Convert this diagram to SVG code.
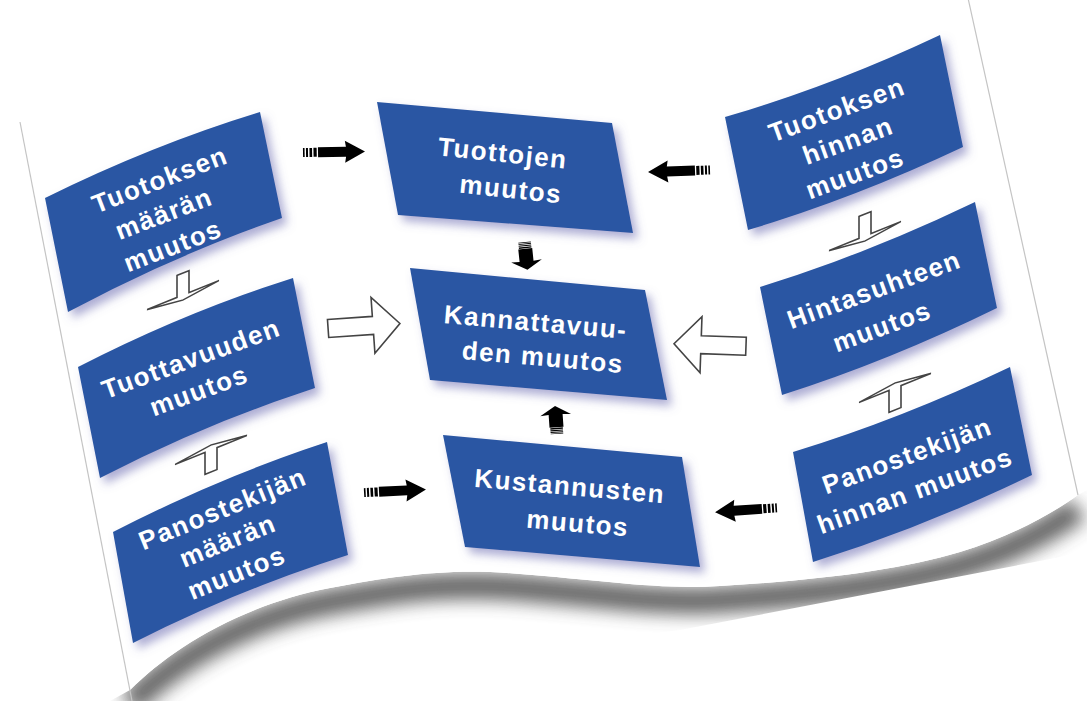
<svg xmlns="http://www.w3.org/2000/svg" width="1087" height="701" viewBox="0 0 1087 701">
<defs>
<style>
.box{fill:#2a57a3;filter:url(#bs)}
.t{font-family:"Liberation Sans",Arial,sans-serif;font-weight:bold;font-size:26px;fill:#ffffff;text-anchor:middle;letter-spacing:1.5px}
.hollow{fill:#ffffff;stroke:#444444;stroke-width:1.6;stroke-linejoin:miter}
.edge{fill:none;stroke:#c4c4c4;stroke-width:1.2}
</style>
<filter id="bs" x="-20%" y="-20%" width="150%" height="150%">
<feDropShadow dx="5" dy="6" stdDeviation="5" flood-color="#6b6bb0" flood-opacity="0.55"/>
</filter>
<filter id="blur" x="-10%" y="-50%" width="120%" height="200%">
<feGaussianBlur stdDeviation="9"/>
</filter>
<clipPath id="under">
<path d="M130,690 C170,650 240,605 330,588 C400,575 450,568 520,574 C600,580 660,590 720,586 C820,580 900,570 960,552 C1010,537 1050,515 1078,495 L1087,490 L1087,552 L680,630 L128,712 L110,701 Z"/>
</clipPath>
<g id="blk">
<rect x="-31" y="-4.5" width="1.6" height="9" fill="#000"/>
<rect x="-28" y="-4.5" width="2" height="9" fill="#000"/>
<rect x="-24.5" y="-4.5" width="2.6" height="9" fill="#000"/>
<rect x="-20.5" y="-4.5" width="3.2" height="9" fill="#000"/>
<path d="M-16,-5 L12,-5 L11,-11 L31,0 L11,11 L12,5 L-16,5 Z" fill="#000"/>
</g>
<path id="hh" d="M-36,-9 L9,-9 L9,-28 L36,0 L9,28 L9,9 L-36,9 Z"/>
<path id="hd" d="M-6,-22 L6,-22 L6,0 L36,0 L0,5 L-36,0 L-6,0 Z"/>
<path id="hu" d="M-6,22 L6,22 L6,0 L36,0 L0,-5 L-36,0 L-6,0 Z"/>
</defs>

<rect x="0" y="0" width="1087" height="701" fill="#ffffff"/>

<g id="sheet">
<g clip-path="url(#under)">
<path d="M130,690 C170,650 240,605 330,588 C400,575 450,568 520,574 C600,580 660,590 720,586 C820,580 900,570 960,552 C1010,537 1050,515 1078,495" transform="translate(0,14)" fill="none" stroke="#4a4a4a" stroke-width="26" filter="url(#blur)" opacity="0.85"/>
</g>
<path d="M20,122 L968,-2 L1078,495 C1050,515 1010,537 960,552 C900,570 820,580 720,586 C660,590 600,580 520,574 C450,568 400,575 330,588 C240,605 170,650 130,690 Z" fill="#ffffff"/>
<path class="edge" d="M20,122 L132,701"/>
<path class="edge" d="M968,-2 L1078,495"/>
</g>

<g id="connectors">
<use href="#blk" transform="translate(334,152) rotate(-1)"/>
<use href="#blk" transform="translate(395,491) rotate(-3)"/>
<use href="#blk" transform="translate(679,171) rotate(178)"/>
<use href="#blk" transform="translate(746,510) rotate(176)"/>
<use href="#blk" transform="translate(526,256) rotate(84) scale(0.45,1.4)"/>
<use href="#blk" transform="translate(556,420) rotate(-94) scale(0.45,1.4)"/>
<use href="#hh" class="hollow" transform="translate(364,326) rotate(-4)"/>
<use href="#hh" class="hollow" transform="translate(710,345) rotate(182)"/>
<use href="#hd" class="hollow" transform="translate(183,295) skewY(-22)"/>
<use href="#hd" class="hollow" transform="translate(865,236) skewY(-22)"/>
<use href="#hu" class="hollow" transform="translate(211,450) skewY(-22)"/>
<use href="#hu" class="hollow" transform="translate(895,388) skewY(-22)"/>
</g>

<g id="n1">
<path class="box" d="M45,198 Q152,145 260,112 L282,218 Q175,255 68,312 Z"/>
<text class="t" x="163" y="188" transform="rotate(-21 163 188)">Tuotoksen</text>
<text class="t" x="167" y="222" transform="rotate(-21 167 222)">määrän</text>
<text class="t" x="176" y="254" transform="rotate(-21 176 254)">muutos</text>
</g>

<g id="n2">
<path class="box" d="M377,102 L612,123 L633,233 L398,215 Z"/>
<text class="t" x="502" y="162" transform="rotate(6 502 162)">Tuottojen</text>
<text class="t" x="510" y="198" transform="rotate(6 510 198)">muutos</text>
</g>

<g id="n3">
<path class="box" d="M410,268 L645,290 L667,400 L430,380 Z"/>
<text class="t" x="535" y="331" transform="rotate(5 535 331)">Kannattavuu-</text>
<text class="t" x="542" y="366" transform="rotate(5 542 366)">den muutos</text>
</g>

<g id="n4">
<path class="box" d="M725,117 Q832,86 940,35 L963,147 Q855,198 748,230 Z"/>
<text class="t" x="840" y="118" transform="rotate(-20 840 118)">Tuotoksen</text>
<text class="t" x="851" y="149" transform="rotate(-20 851 149)">hinnan</text>
<text class="t" x="858" y="182" transform="rotate(-20 858 182)">muutos</text>
</g>

<g id="n5">
<path class="box" d="M760,287 Q867,254 975,202 L997,308 Q889,361 782,395 Z"/>
<text class="t" x="877" y="298" transform="rotate(-20 877 298)">Hintasuhteen</text>
<text class="t" x="885" y="335" transform="rotate(-20 885 335)">muutos</text>
</g>

<g id="n6">
<path class="box" d="M78,367 Q185,312 293,278 L315,388 Q207,423 100,478 Z"/>
<text class="t" x="194" y="367" transform="rotate(-20 194 367)">Tuottavuuden</text>
<text class="t" x="202" y="399" transform="rotate(-20 202 399)">muutos</text>
</g>

<g id="n7">
<path class="box" d="M113,532 Q220,477 327,442 L348,555 Q240,589 133,643 Z"/>
<text class="t" x="226" y="517" transform="rotate(-22 226 517)">Panostekijän</text>
<text class="t" x="231" y="549" transform="rotate(-22 231 549)">määrän</text>
<text class="t" x="240" y="581" transform="rotate(-22 240 581)">muutos</text>
</g>

<g id="n8">
<path class="box" d="M443,435 L682,457 L700,567 L465,547 Z"/>
<text class="t" x="569" y="495" transform="rotate(5 569 495)">Kustannusten</text>
<text class="t" x="577" y="532" transform="rotate(5 577 532)">muutos</text>
</g>

<g id="n9">
<path class="box" d="M793,452 Q901,419 1010,367 L1032,475 Q922,528 813,562 Z"/>
<text class="t" x="910" y="464" transform="rotate(-20 910 464)">Panostekijän</text>
<text class="t" x="918" y="499" transform="rotate(-20 918 499)">hinnan muutos</text>
</g>
</svg>
